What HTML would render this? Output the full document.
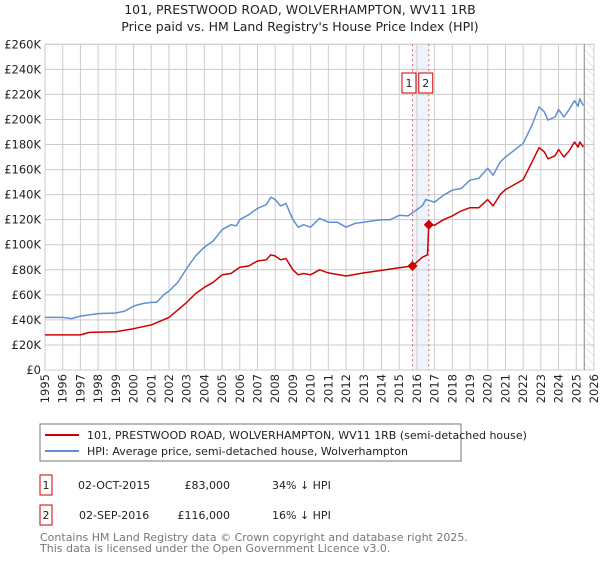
<!DOCTYPE html>
<html><head><meta charset="utf-8"><style>
body{margin:0;background:#fff;font-family:"Liberation Sans","DejaVu Sans",sans-serif;}
svg text{font-family:"DejaVu Sans","Liberation Sans",sans-serif;}
</style></head><body>
<svg id="c" width="600" height="560" xmlns="http://www.w3.org/2000/svg">
<defs><pattern id="hatch" width="6" height="6" patternUnits="userSpaceOnUse" patternTransform="rotate(-45)"><line x1="0" y1="0" x2="0" y2="6" stroke="#d0d0d0" stroke-width="1"/></pattern></defs>
<text x="300" y="14" text-anchor="middle" font-size="12.5" fill="#222">101, PRESTWOOD ROAD, WOLVERHAMPTON, WV11 1RB</text>
<text x="300" y="31" text-anchor="middle" font-size="12.5" fill="#222">Price paid vs. HM Land Registry's House Price Index (HPI)</text>
<g id="grid"></g><g id="marks"></g><g id="axes"></g>
<rect x="40" y="424" width="421" height="37" fill="#fff" stroke="#777"/>
<line x1="45" y1="435" x2="79" y2="435" stroke="#cc0000" stroke-width="2"/>
<text x="87" y="439" font-size="11" fill="#222">101, PRESTWOOD ROAD, WOLVERHAMPTON, WV11 1RB (semi-detached house)</text>
<line x1="45" y1="451" x2="79" y2="451" stroke="#6090d0" stroke-width="2"/>
<text x="87" y="455" font-size="11" fill="#222">HPI: Average price, semi-detached house, Wolverhampton</text>
<g font-size="11" fill="#222">
<rect x="40" y="475" width="12" height="20" fill="none" stroke="#cc0000"/>
<text x="46" y="489" text-anchor="middle">1</text>
<text x="78" y="489">02-OCT-2015</text>
<text x="230" y="489" text-anchor="end">£83,000</text>
<text x="272" y="489">34% ↓ HPI</text>
<rect x="40" y="505" width="12" height="20" fill="none" stroke="#cc0000"/>
<text x="46" y="519" text-anchor="middle">2</text>
<text x="79" y="519">02-SEP-2016</text>
<text x="230" y="519" text-anchor="end">£116,000</text>
<text x="272" y="519">16% ↓ HPI</text>
</g>
<text x="40" y="541" font-size="11" fill="#777">Contains HM Land Registry data © Crown copyright and database right 2025.</text>
<text x="40" y="552" font-size="11" fill="#777">This data is licensed under the Open Government Licence v3.0.</text>
</svg>
<script>
const yTicks=[0,20,40,60,80,100,120,140,160,180,200,220,240,260];
const yearTicks=[1995,1996,1997,1998,1999,2000,2001,2002,2003,2004,2005,2006,2007,2008,2009,2010,2011,2012,2013,2014,2015,2016,2017,2018,2019,2020,2021,2022,2023,2024,2025,2026];
const hpiYears=[1995,1996,1996.5,1997,1997.5,1998,1999,1999.5,2000,2000.5,2001,2001.3,2001.7,2002,2002.5,2003,2003.5,2004,2004.5,2005,2005.5,2005.8,2006,2006.5,2007,2007.5,2007.75,2008,2008.3,2008.6,2009,2009.3,2009.6,2010,2010.5,2011,2011.5,2012,2012.5,2013,2013.5,2014,2014.5,2015,2015.5,2015.75,2016.3,2016.5,2017,2017.5,2018,2018.5,2019,2019.5,2020,2020.3,2020.7,2021,2021.5,2022,2022.5,2022.9,2023.2,2023.4,2023.8,2024,2024.3,2024.6,2024.9,2025.1,2025.2,2025.4];
const hpiValues=[42,42,41,43,44,45,45.5,47,51,53,54,54,60,63,70,81,91,98,103,112,116,115,120,124,129,132,138,136,131,133,120,114,116,114,121,118,118,114,117,118,119,120,120,123.5,123,125.6,131,136,134,139.5,143.5,145,151.5,153,161,155.5,166,170,175.5,181,195.5,210,206,199.5,202,208,202,208,215,210.5,216.5,211];
const priceYears=[1995,1997,1997.5,1999,2000,2001,2002,2003,2003.5,2004,2004.5,2005,2005.5,2006,2006.5,2007,2007.5,2007.75,2008,2008.3,2008.6,2009,2009.3,2009.6,2010,2010.5,2011,2012,2013,2014,2015,2015.75,2016.3,2016.6,2016.67,2017,2017.5,2018,2018.5,2019,2019.5,2020,2020.3,2020.7,2021,2021.5,2022,2022.5,2022.9,2023.2,2023.4,2023.8,2024,2024.3,2024.6,2024.9,2025.1,2025.2,2025.4];
const priceValues=[28,28,30,30.5,33,36,42,54,61,66,70,76,77,82,83,87,88,92,91,88,89,80,76,77,76,80,77.5,75,77.5,79.5,81.7,83,90,92,116,115.6,120,123,127,129.6,129.6,136,131,140,144,148,152,166,177.5,174,168.6,171,176,170,175,182,178,182,178];
const saleYears=[2015.75,2016.67];
const saleValues=[83,116];
const saleLabels=["1","2"];
const dataEnd=2025.45;

const X0=45,X1=594,Y0=370,Y1=44.3;
const xs=y=>X0+(y-1995)/(2026-1995)*(X1-X0);
const ys=v=>Y0-v/260*(Y0-Y1);
const NS="http://www.w3.org/2000/svg";
function mk(tag,attrs,parent){const e=document.createElementNS(NS,tag);for(const k in attrs)e.setAttribute(k,attrs[k]);parent.appendChild(e);return e;}
const grid=document.getElementById('grid'),marks=document.getElementById('marks'),axes=document.getElementById('axes');
mk('rect',{x:X0,y:Y1,width:X1-X0,height:Y0-Y1,fill:'#fff',stroke:'#ccc'},grid);
let band=mk('rect',{x:xs(saleYears[0]),y:Y1,width:xs(saleYears[1])-xs(saleYears[0]),height:Y0-Y1,fill:'#eef3fc'},grid);


yTicks.forEach(v=>{
  const l=mk('line',{x1:X0,x2:X1,y1:ys(v),y2:ys(v),stroke:'#ccc'},grid);
  
  
  const t=mk('text',{x:X0-4,y:ys(v)+4,'text-anchor':'end','font-size':'11.5',fill:'#222'},axes);
  t.textContent='£'+(v===0?'0':v+'K');
  
  
});
yearTicks.forEach(yr=>{
  const x=xs(yr);
  const l=mk('line',{x1:x,x2:x,y1:Y1,y2:Y0,stroke:'#ccc'},grid);
  
  
  const t=mk('text',{x:0,y:0,'text-anchor':'end','font-size':'11.5',fill:'#222',transform:`translate(${x+4},${Y0+4}) rotate(-90)`},axes);
  t.textContent=yr;
  
  
});
const h=mk('rect',{x:xs(dataEnd),y:Y1,width:X1-xs(dataEnd),height:Y0-Y1,fill:'url(#hatch)'},grid);


const hl=mk('line',{x1:xs(dataEnd),x2:xs(dataEnd),y1:Y1,y2:Y0,stroke:'#888'},grid);


saleYears.forEach((yr,i)=>{
  const l=mk('line',{x1:xs(yr),x2:xs(yr),y1:Y1,y2:Y0,stroke:'#e06060','stroke-dasharray':'2,3'},grid);
  
  
});
function path(xa,va){return xa.map((y,i)=>(i?'L':'M')+xs(y).toFixed(1)+','+ys(va[i]).toFixed(1)).join('');}
const hp=mk('path',{d:path(hpiYears,hpiValues),fill:'none',stroke:'#6090d0','stroke-width':1.5,'stroke-linejoin':'round'},marks);


const pp=mk('path',{d:path(priceYears,priceValues),fill:'none',stroke:'#cc0000','stroke-width':1.5,'stroke-linejoin':'round'},marks);


saleYears.forEach((yr,i)=>{
  const x=xs(yr),y=ys(saleValues[i]);
  const d=mk('path',{d:`M${x},${y-5}L${x+5},${y}L${x},${y+5}L${x-5},${y}Z`,fill:'#cc0000'},marks);
  
  
  const bx=i===0?xs(yr)-10.5:xs(yr)-10;
  const r=mk('rect',{x:bx,y:73,width:14,height:20,fill:'#fff',stroke:'#cc0000'},marks);
  
  
  const t=mk('text',{x:bx+7,y:87,'text-anchor':'middle','font-size':'11',fill:'#222'},marks);
  t.textContent=saleLabels[i];
  
  
});
</script>
</body></html>
